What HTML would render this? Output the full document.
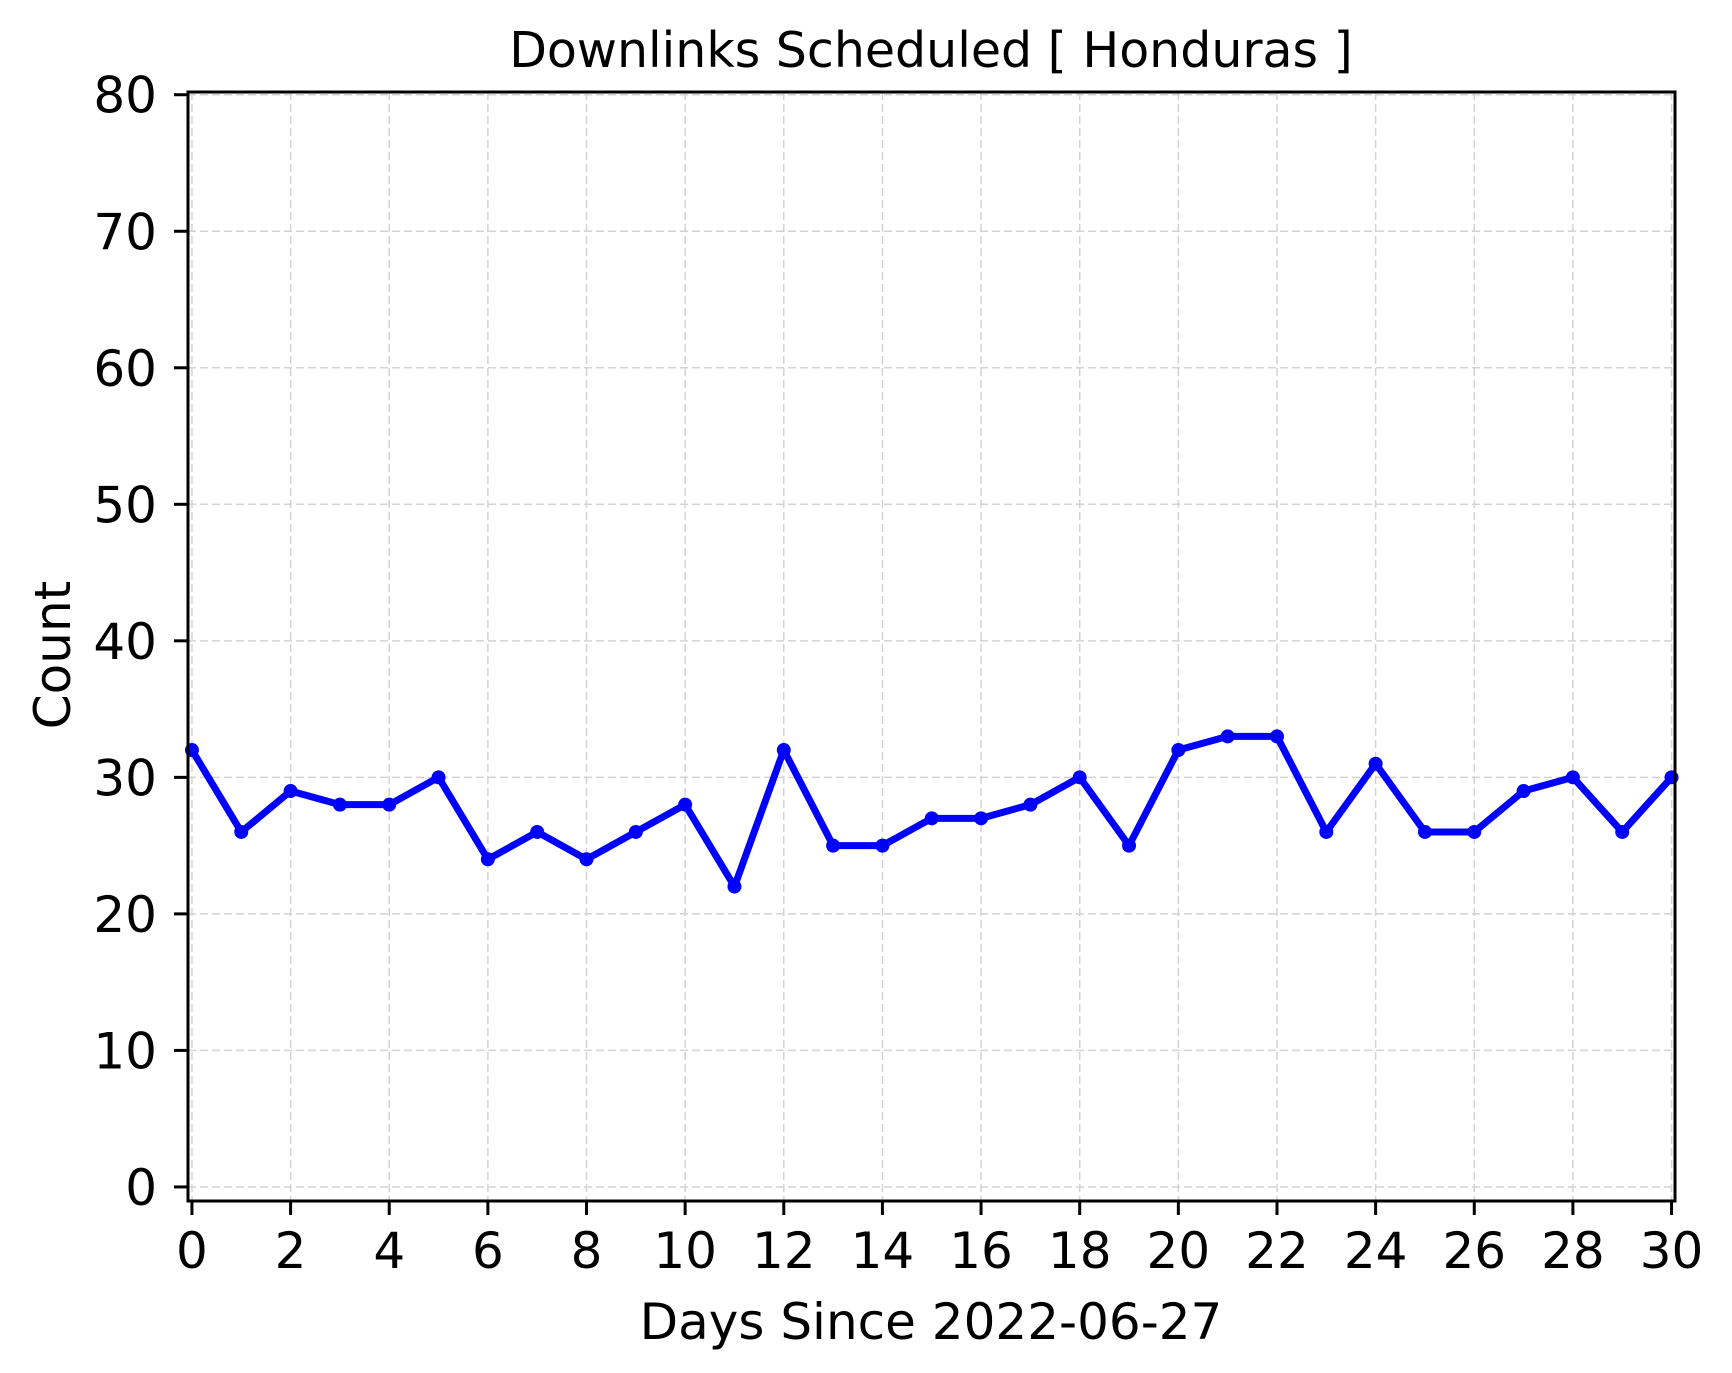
<!DOCTYPE html>
<html><head><meta charset="utf-8"><style>
html,body{margin:0;padding:0;background:#fff;}
svg{display:block;font-family:"DejaVu Sans","Liberation Sans",sans-serif;}
</style></head><body>
<svg id="chart" width="1732" height="1373" viewBox="0 0 1732 1373" xmlns="http://www.w3.org/2000/svg">
<rect width="1732" height="1373" fill="#fff"/>
<text x="931" y="67" font-size="49" text-anchor="middle">Downlinks Scheduled [ Honduras ]</text>
<g id="grid"></g>
<g id="series"></g>
<rect x="188" y="92" width="1487" height="1109" fill="none" stroke="#000" stroke-width="3"/>
<g id="xticks"></g>
<g id="yticks"></g>
<text x="931" y="1339" font-size="50" text-anchor="middle">Days Since 2022-06-27</text>
<text transform="translate(70,655) rotate(-90)" font-size="50" text-anchor="middle">Count</text>
</svg>
<script>
const days = [0,1,2,3,4,5,6,7,8,9,10,11,12,13,14,15,16,17,18,19,20,21,22,23,24,25,26,27,28,29,30];
const counts = [32,26,29,28,28,30,24,26,24,26,28,22,32,25,25,27,27,28,30,25,32,33,33,26,31,26,26,29,30,26,30];
const xTickLabels = [0,2,4,6,8,10,12,14,16,18,20,22,24,26,28,30];
const yTickLabels = [0,10,20,30,40,50,60,70,80];

const NS='http://www.w3.org/2000/svg';
const L=188,R=1675,T=92,B=1201;
const xMin=-0.08,xMax=30.07,yMin=-1.03,yMax=80.2;
function xs(v){return L+(v-xMin)/(xMax-xMin)*(R-L);}
function ys(v){return B-(v-yMin)/(yMax-yMin)*(B-T);}
function mk(tag,attrs,parent){const e=document.createElementNS(NS,tag);for(const k in attrs)e.setAttribute(k,attrs[k]);parent.appendChild(e);return e;}
const grid=document.getElementById('grid'),xt=document.getElementById('xticks'),yt=document.getElementById('yticks'),ser=document.getElementById('series');
xTickLabels.forEach(v=>{
  const x=xs(v);
  const g=mk('line',{x1:x,x2:x,y1:T,y2:B,stroke:'#d3d3d3','stroke-width':1.5,'stroke-dasharray':'8,4'},grid);
  
  
  const t=mk('line',{x1:x,x2:x,y1:B,y2:B+14,stroke:'#000','stroke-width':3},xt);
  
  
  const l=mk('text',{x:x,y:1268,'font-size':50,'text-anchor':'middle'},xt);
  l.textContent=v;
  
  
});
yTickLabels.forEach(v=>{
  const y=ys(v);
  const g=mk('line',{x1:L,x2:R,y1:y,y2:y,stroke:'#d3d3d3','stroke-width':1.5,'stroke-dasharray':'8,4'},grid);
  
  
  const t=mk('line',{x1:L-14,x2:L,y1:y,y2:y,stroke:'#000','stroke-width':3},yt);
  
  
  const l=mk('text',{x:157,y:y+18,'font-size':50,'text-anchor':'end'},yt);
  l.textContent=v;
  
  
});
const pts=days.map((d,i)=>xs(d)+','+ys(counts[i])).join(' ');
const line=mk('polyline',{points:pts,fill:'none',stroke:'#0000ff','stroke-width':7,'stroke-linejoin':'round'},ser);


days.forEach((d,i)=>{
  const c=mk('circle',{cx:xs(d),cy:ys(counts[i]),r:7,fill:'#0000ff'},ser);
  
  
});
</script>
</body></html>
